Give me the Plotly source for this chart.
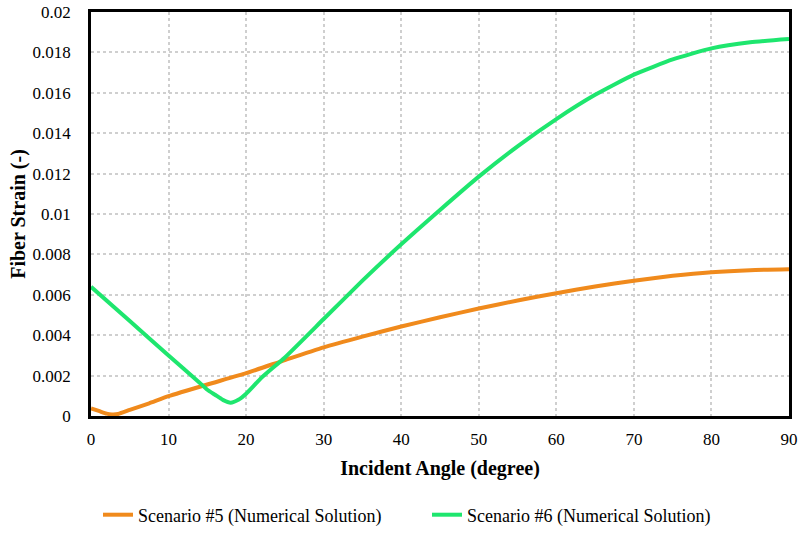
import plotly.graph_objects as go

# Scenario #5 (orange)
angle5 = [0, 1, 2, 2.7, 3.5, 5, 7.5, 10, 15, 20, 25, 30, 35, 40, 45, 50, 55, 60, 65, 70, 75, 80, 85, 90]
strain5 = [0.00037, 0.00025, 0.00012, 0.00008, 0.0001, 0.0003, 0.00063, 0.00098, 0.00156, 0.00212, 0.00277,
           0.0034, 0.00393, 0.00443, 0.00489, 0.00532, 0.00572, 0.00608, 0.00641, 0.0067, 0.00694, 0.00712,
           0.00722, 0.00726]

# Scenario #6 (green)
angle6 = [0, 5, 10, 14, 15, 16, 17, 18, 19, 20, 22, 25, 30, 35, 40, 45, 50, 55, 60, 65, 70, 75, 80, 85, 90]
strain6 = [0.0064, 0.0047, 0.0030, 0.00165, 0.0013, 0.00105, 0.0008, 0.00066, 0.0008, 0.0011, 0.0019, 0.0029,
           0.0048, 0.0067, 0.0085, 0.0102, 0.01185, 0.01335, 0.0147, 0.0159, 0.0169, 0.01765, 0.0182, 0.0185,
           0.01866]

y_ticks = [0, 0.002, 0.004, 0.006, 0.008, 0.01, 0.012, 0.014, 0.016, 0.018, 0.02]
y_labels = ["0", "0.002", "0.004", "0.006", "0.008", "0.01", "0.012", "0.014", "0.016", "0.018", "0.02"]
x_ticks = [0, 10, 20, 30, 40, 50, 60, 70, 80, 90]

FONT = "Times New Roman, Liberation Serif, serif"

fig = go.Figure()
fig.add_trace(go.Scatter(x=angle5, y=strain5, mode="lines", name="Scenario #5 (Numerical Solution)",
                         line=dict(color="#F08A1C", width=4, shape="spline", smoothing=0.5)))
fig.add_trace(go.Scatter(x=angle6, y=strain6, mode="lines", name="Scenario #6 (Numerical Solution)",
                         line=dict(color="#1EE66E", width=4, shape="spline", smoothing=0.5)))

fig.update_layout(
    width=800, height=533,
    margin=dict(l=91, r=11, t=12, b=117, autoexpand=False),
    paper_bgcolor="white", plot_bgcolor="white",
    font=dict(family=FONT, size=17, color="black"),
    showlegend=True,
    legend=dict(orientation="h", xref="container", yref="container", x=98 / 800, xanchor="left",
                y=1 - 515 / 533, yanchor="middle",
                font=dict(family=FONT, size=18, color="black"), entrywidth=284, entrywidthmode="pixels"),
    xaxis=dict(range=[0, 90], tickvals=x_ticks, showgrid=True, gridcolor="#cfcfcf", griddash="dot",
               gridwidth=2, showline=True, linecolor="black", linewidth=2.5, mirror=True,
               ticks="", ticklabelstandoff=6, zeroline=False, automargin=False,
               tickfont=dict(family=FONT, size=17, color="black"),
               title=dict(text="<b>Incident Angle (degree)</b>", font=dict(family=FONT, size=20, color="black"),
                          standoff=13)),
    yaxis=dict(range=[0, 0.02], tickvals=y_ticks, ticktext=y_labels, showgrid=True, gridcolor="#cfcfcf",
               griddash="dot", gridwidth=2, showline=True, linecolor="black", linewidth=2.5, mirror=True,
               ticks="", ticklabelstandoff=14, zeroline=False, automargin=False,
               tickfont=dict(family=FONT, size=17, color="black"),
               title=dict(text="<b>Fiber Strain (-)</b>", font=dict(family=FONT, size=20, color="black"),
                          standoff=2)),
)

fig.write_html("out.html", config={"displayModeBar": False},
               post_script="document.body.style.margin='0';")
